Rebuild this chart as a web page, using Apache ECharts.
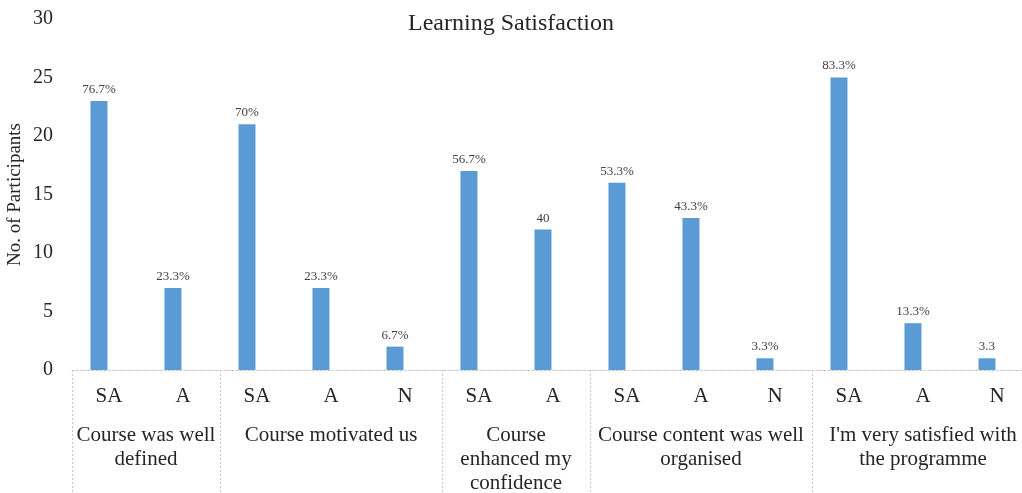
<!DOCTYPE html>
<html>
<head>
<meta charset="utf-8">
<script src="https://cdn.jsdelivr.net/npm/echarts@6/dist/echarts.min.js"></script>
<style>
html,body{margin:0;padding:0;background:#fff;}
#chart{width:1022px;height:493px;}
</style>
</head>
<body>
<div id="chart"></div>
<script>
var categories = ['SA','A','SA','A','N','SA','A','SA','A','N','SA','A','N'];
var values = [23, 7, 21, 7, 2, 17, 12, 16, 13, 1, 25, 4, 1];
var valueLabels = ['76.7%','23.3%','70%','23.3%','6.7%','56.7%','40','53.3%','43.3%','3.3%','83.3%','13.3%','3.3'];
var groupNames = ['Course was well\ndefined','Course motivated us','Course\nenhanced my\nconfidence','Course content was well\norganised',"I'm very satisfied with\nthe programme"];
var groupSizes = [2, 3, 2, 3, 3];
var yTicks = [0, 5, 10, 15, 20, 25, 30];

var FONT = 'Liberation Serif';
var bounds = [0], centers = [];
groupSizes.forEach(function (s, i) {
  var start = bounds[bounds.length - 1];
  centers.push(start + s / 2);
  bounds.push(start + s);
});

var chart = echarts.init(document.getElementById('chart'), null, {renderer: 'canvas'});
chart.setOption({
  animation: false,
  backgroundColor: '#fff',
  textStyle: {fontFamily: FONT},
  title: {
    text: 'Learning Satisfaction',
    left: 'center',
    top: 7,
    textStyle: {fontFamily: FONT, fontSize: 24, fontWeight: 'normal', color: '#262626'}
  },
  grid: {left: 72, top: 19, width: 962, height: 351, containLabel: false, outerBoundsMode: 'none'},
  xAxis: [{
    type: 'category',
    data: categories,
    position: 'bottom',
    axisLine: {show: true, lineStyle: {color: '#c8c8c8', type: [2, 2], width: 1}},
    axisTick: {show: false},
    axisLabel: {margin: 16, fontSize: 21, color: '#262626', fontFamily: FONT}
  }, {
    type: 'value',
    min: 0,
    max: bounds[bounds.length - 1],
    position: 'bottom',
    axisLine: {show: false},
    splitLine: {show: false},
    axisTick: {
      show: true,
      customValues: bounds,
      length: 125,
      lineStyle: {color: '#c8c8c8', type: [2, 2], width: 1}
    },
    axisLabel: {
      show: true,
      customValues: centers,
      margin: 53,
      fontSize: 21,
      lineHeight: 24,
      color: '#262626',
      fontFamily: FONT,
      formatter: function (v) {
        for (var i = 0; i < centers.length; i++) {
          if (Math.abs(centers[i] - v) < 1e-6) return groupNames[i];
        }
        return '';
      }
    }
  }],
  yAxis: {
    type: 'value',
    min: yTicks[0],
    max: yTicks[yTicks.length - 1],
    interval: yTicks[1] - yTicks[0],
    axisLine: {show: false},
    axisTick: {show: false},
    splitLine: {show: false},
    axisLabel: {margin: 19, fontSize: 20, color: '#262626', fontFamily: FONT},
    name: 'No. of Participants',
    nameLocation: 'middle',
    nameGap: 47,
    nameMoveOverlap: false,
    nameTextStyle: {fontSize: 19, color: '#262626', fontFamily: FONT}
  },
  series: [{
    type: 'bar',
    xAxisIndex: 0,
    data: values,
    barWidth: 17,
    barGap: '18%',
    itemStyle: {color: '#5B9BD5'},
    label: {
      show: true,
      position: 'top',
      distance: 5,
      fontSize: 13,
      color: '#404040',
      fontFamily: FONT,
      formatter: function (p) { return valueLabels[p.dataIndex]; }
    }
  }, {
    type: 'bar',
    xAxisIndex: 0,
    data: categories.map(function () { return null; }),
    barWidth: 17,
    itemStyle: {color: '#ED7D31'}
  }]
});
</script>
</body>
</html>
